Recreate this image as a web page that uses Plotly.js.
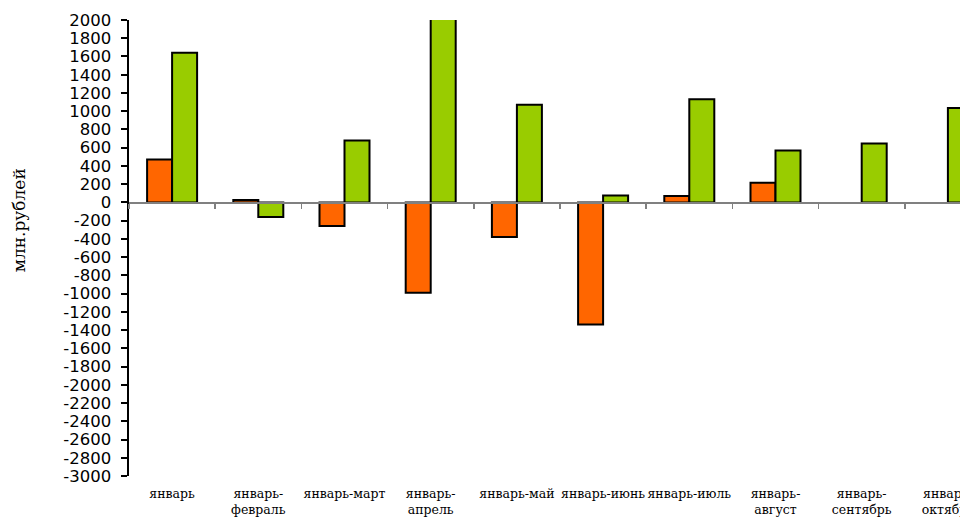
<!DOCTYPE html>
<html>
<head>
<meta charset="utf-8">
<script src="https://cdn.plot.ly/plotly-3.0.1.min.js"></script>
<style>
html,body{margin:0;padding:0;overflow:hidden;background:#fff;width:960px;height:520px;}
#chart{width:1000px;height:520px;}
</style>
</head>
<body>
<div id="chart"></div>
<script>
const categories = ["январь", "январь-<br>февраль", "январь-март", "январь-<br>апрель", "январь-май",
  "январь-июнь", "январь-июль", "январь-<br>август", "январь-<br>сентябрь", "январь-<br>октябрь"];
const seriesOrange = [470, 25, -260, -990, -380, -1340, 70, 215, null, null];
const seriesGreen = [1640, -160, 680, 2150, 1070, 75, 1130, 570, 645, 1035];
const yTickVals = [2000, 1800, 1600, 1400, 1200, 1000, 800, 600, 400, 200, 0, -200, -400, -600, -800,
  -1000, -1200, -1400, -1600, -1800, -2000, -2200, -2400, -2600, -2800, -3000];
const yTickText = ["2000", "1800", "1600", "1400", "1200", "1000", "800", "600", "400", "200", "0",
  "-200", "-400", "-600", "-800", "-1000", "-1200", "-1400", "-1600", "-1800", "-2000", "-2200",
  "-2400", "-2600", "-2800", "-3000"];
const yTitle = "млн.рублей";

const traces = [
  {type: "bar", x: categories, y: seriesOrange, marker: {color: "#FF6600", line: {color: "#000", width: 2}}, hoverinfo: "none"},
  {type: "bar", x: categories, y: seriesGreen, marker: {color: "#99CC00", line: {color: "#000", width: 2}}, hoverinfo: "none"}
];

const yMin = -3000, yMax = 2000;
const zeroPos = (0 - yMin) / (yMax - yMin);
const serif = "DejaVu Serif";

const layout = {
  width: 1000, height: 520,
  margin: {l: 129, r: 9, t: 20, b: 44},
  paper_bgcolor: "#fff", plot_bgcolor: "#fff",
  showlegend: false,
  barmode: "group",
  bargap: 0.42,
  bargroupgap: 0,
  xaxis: {
    type: "category",
    range: [-0.5, categories.length - 0.5],
    showline: false, showgrid: false, zeroline: false,
    ticks: "", ticklabelstandoff: 8,
    tickangle: 0,
    tickfont: {family: serif, size: 12.5, color: "#000"}
  },
  xaxis2: {
    matches: "x", overlaying: "x", anchor: "free", position: zeroPos,
    showline: true, linecolor: "#808080", linewidth: 1.5,
    showgrid: false, zeroline: false,
    ticks: "outside", tickson: "boundaries", ticklen: 5, tickwidth: 1.5, tickcolor: "#808080",
    showticklabels: false
  },
  yaxis: {
    range: [yMin, yMax],
    tickvals: yTickVals, ticktext: yTickText,
    showline: true, linecolor: "#000", linewidth: 2.5,
    ticks: "outside", ticklen: 6, tickwidth: 2, tickcolor: "#000",
    showgrid: false, zeroline: false,
    ticklabelstandoff: 6,
    tickfont: {family: "DejaVu Sans", size: 16.5, color: "#000"}
  },
  annotations: [{
    text: yTitle, xref: "paper", yref: "paper", x: -0.128, y: 0.56,
    xanchor: "center", yanchor: "middle", textangle: -90, showarrow: false,
    font: {family: serif, size: 17, color: "#000"}
  }]
};

traces.push({type: "scatter", x: [categories[0]], y: [0], xaxis: "x2", mode: "markers", marker: {opacity: 0}, hoverinfo: "none"});

Plotly.newPlot("chart", traces, layout, {staticPlot: true, displayModeBar: false});
</script>
</body>
</html>
